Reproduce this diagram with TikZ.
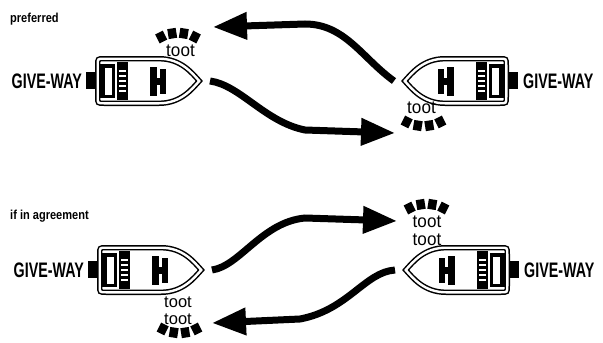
\documentclass[tikz,border=0pt]{standalone}
\usepackage{fontspec}
\setmainfont{Liberation Sans}
\usetikzlibrary{arrows.meta,positioning}

\newcommand{\narrow}[2]{\scalebox{#1}[1]{#2}}

\tikzset{
  gw/.style={inner sep=0pt,font=\fontsize{21}{21}\selectfont\bfseries},
  toot/.style={inner sep=0pt,align=center,font=\fontsize{18}{18}\selectfont},
  caption/.style={inner sep=0pt,font=\fontsize{13}{13}\selectfont\bfseries},
  blk/.style={fill=black,inner sep=0pt,minimum width=8.5pt,minimum height=10pt},
  track/.style={line width=7pt,-{Triangle[length=34pt,width=26pt]}},
  boat/.pic={
    % motor on the stern
    \fill (-9,-9) rectangle (1,8);
    \coordinate (-stern) at (-9,0);
    \coordinate (-bow) at (115,0);
    % hull
    \draw[line width=1.5pt,double=white,double distance=2.4pt]
      (2.7,-16) .. controls (2.7,-22.3) .. (9,-22.3) -- (64,-22.3)
      .. controls (86,-22.3) and (97,-8) .. (104.3,0)
      .. controls (97,8) and (86,22.3) .. (64,22.3) -- (9,22.3)
      .. controls (2.7,22.3) .. (2.7,16) -- cycle;
    % cabin and console
    \fill (5,-17) rectangle (20,17);
    \fill[white] (10,-13) rectangle (17,14);
    \fill (22,-19) rectangle (33,19);
    \foreach \d in {-10,-5,...,10}
      \draw[white,line width=1.2pt] (24,\d) -- (31,\d);
    % seat
    \fill (55,-14) rectangle (62,15);
    \fill (65,-12) rectangle (71,13);
    \fill (62,-3) rectangle (65,4);
  },
}

\begin{document}
\begin{tikzpicture}[x=1pt,y=-1pt]
  \useasboundingbox (0,0) rectangle (603,343);

  % preferred
  \node[caption,anchor=base west] (pref) at (10,22) {\narrow{0.85}{preferred}};
  \pic (tl) at (95,81) {boat};
  \pic[xscale=-1] (tr) at (509,81) {boat};
  \node[gw,left=4pt of tl-stern] (tlgw) {\narrow{0.68}{GIVE-WAY}};
  \node[gw,right=5pt of tr-stern] (trgw) {\narrow{0.68}{GIVE-WAY}};

  \node[toot,anchor=base] (tltoot) at (180.5,56) {\narrow{0.95}{toot}};
  \coordinate (tlhorn) at (178,70);
  \foreach \p in {63,81,99,117}
    \node[blk,rotate=\p-90] (tlb\p) at ([shift={(-\p:37)}]tlhorn) {};

  \node[toot,anchor=base] (trtoot) at (421.5,113) {\narrow{0.95}{toot}};
  \coordinate (trhorn) at (423.5,89);
  \foreach \p in {243,261,279,297}
    \node[blk,rotate=\p-90] (trb\p) at ([shift={(-\p:37)}]trhorn) {};

  \coordinate (tip1) at (213,27);
  \coordinate (tip2) at (395,133);
  \draw[track] (tr-bow) .. controls (362,58) and (345,24) .. (305,24) -- (tip1);
  \draw[track] (tl-bow) .. controls (240,85) and (265,122) .. (305,130) -- (tip2);

  % if in agreement
  \node[caption,anchor=base west] (agree) at (10,219) {\narrow{0.85}{if in agreement}};
  \pic (bl) at (97,270) {boat};
  \pic[xscale=-1] (br) at (510,270) {boat};
  \node[gw,left=4pt of bl-stern] (blgw) {\narrow{0.68}{GIVE-WAY}};
  \node[gw,right=5pt of br-stern] (brgw) {\narrow{0.68}{GIVE-WAY}};

  \node[toot,anchor=south,font=\fontsize{16.5}{16.5}\selectfont] (bltoot) at (178,324.5)
    {\narrow{1}{toot}\\\narrow{1}{toot}};
  \coordinate (blhorn) at (179.5,296);
  \foreach \p in {243,261,279,297}
    \node[blk,rotate=\p-90] (blb\p) at ([shift={(-\p:37)}]blhorn) {};

  \node[toot,anchor=south] (brtoot) at (427,245.5)
    {\narrow{0.95}{toot}\\\narrow{0.95}{toot}};
  \coordinate (brhorn) at (426.5,241);
  \foreach \p in {63,81,99,117}
    \node[blk,rotate=\p-90] (brb\p) at ([shift={(-\p:37)}]brhorn) {};

  \coordinate (tip3) at (397,221);
  \coordinate (tip4) at (212,323);
  \draw[track] (bl-bow) .. controls (240,266) and (262,222) .. (305,218) -- (tip3);
  \draw[track] (br-bow) .. controls (365,272) and (348,310) .. (300,319) -- (tip4);
\end{tikzpicture}
\end{document}
